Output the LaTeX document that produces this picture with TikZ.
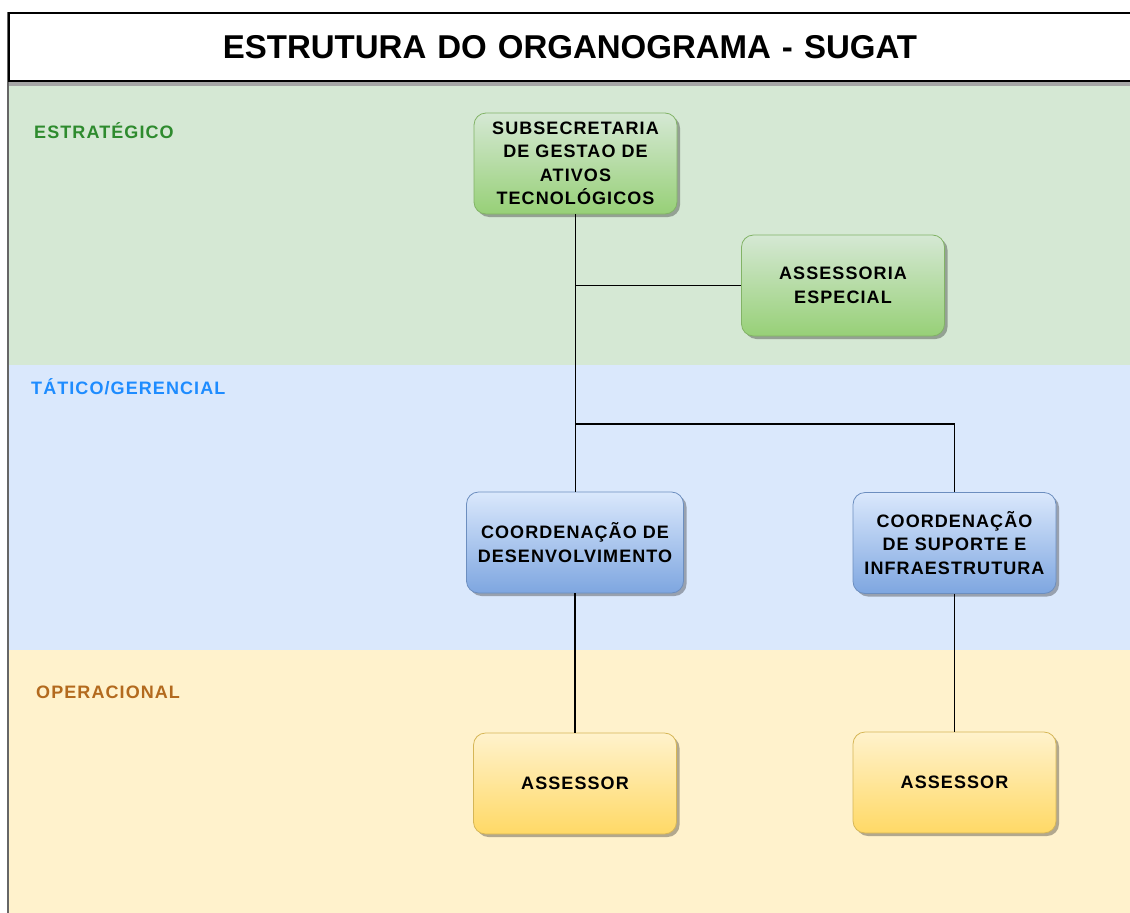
\documentclass[tikz,border=0pt]{standalone}
\usepackage{fontspec}
\setmainfont{Liberation Sans}
\newfontfamily\spaced[LetterSpace=6]{Liberation Sans}
\usetikzlibrary{shadows}
\definecolor{bandgreen}{HTML}{D5E8D4}
\definecolor{bandblue}{HTML}{DAE8FC}
\definecolor{bandyellow}{HTML}{FFF2CC}
\definecolor{gtop}{HTML}{D5E8D4}
\definecolor{gbot}{HTML}{97D077}
\definecolor{gline}{HTML}{82B366}
\definecolor{btop}{HTML}{DAE8FC}
\definecolor{bbot}{HTML}{7EA6E0}
\definecolor{bline}{HTML}{6C8EBF}
\definecolor{ytop}{HTML}{FFF2CC}
\definecolor{ybot}{HTML}{FFD966}
\definecolor{yline}{HTML}{D6B656}
\definecolor{lblgreen}{HTML}{2E8B2E}
\definecolor{lblblue}{HTML}{1E8CFF}
\definecolor{lblbrown}{HTML}{B36A1E}
\tikzset{
  box/.style={rounded corners=12pt, minimum width=203pt, minimum height=101pt,
    inner sep=0pt, align=center, line width=0.8pt,
    font=\spaced\bfseries\fontsize{18}{23.5}\selectfont,
    drop shadow={shadow xshift=3pt, shadow yshift=-3pt, fill=black, opacity=0.3}},
  greenbox/.style={box, draw=gline, top color=gtop, bottom color=gbot},
  bluebox/.style={box, draw=bline, top color=btop, bottom color=bbot},
  yellowbox/.style={box, draw=yline, top color=ytop, bottom color=ybot},
  lbl/.style={anchor=west, inner sep=0pt, font=\spaced\bfseries\fontsize{18}{22}\selectfont},
  conn/.style={draw=black, line width=1.4pt}
}
\begin{document}
\begin{tikzpicture}[x=1pt,y=-1pt]
\useasboundingbox (0,0) rectangle (1130,913);
\fill[white] (0,0) rectangle (1130,913);
% bands
\fill[bandgreen] (8,82) rectangle (1130,365);
\fill[bandblue] (8,365) rectangle (1130,650);
\fill[bandyellow] (8,650) rectangle (1130,913);
\fill[black!35] (8,80) rectangle (1130,86);
\draw[black!60, line width=1.5pt] (8,12) -- (8,913);
% title
\node[draw=black, line width=2pt, fill=white, anchor=north west, minimum width=1130pt,
  minimum height=68pt, inner sep=0pt, text width=1130pt, align=center,
  font=\bfseries\fontsize{33}{38}\selectfont] (title) at (8,12) {\hspace*{-8pt}ESTRUTURA DO ORGANOGRAMA - SUGAT\hspace*{129pt}};
% level labels
\node[lbl, text=lblgreen] (lstr) at (34,131) {ESTRATÉGICO};
\node[lbl, text=lblblue] (ltat) at (31,387) {TÁTICO/GERENCIAL};
\node[lbl, text=lblbrown] (lop) at (36,692) {OPERACIONAL};
% nodes
\node[greenbox] (sub) at (575.5,163.5) {SUBSECRETARIA\\DE GESTAO DE\\ATIVOS\\TECNOLÓGICOS};
\node[greenbox] (esp) at (843,285.5) {ASSESSORIA\\ESPECIAL};
\node[bluebox, minimum width=217pt] (dev) at (575,542.5) {COORDENAÇÃO DE\\DESENVOLVIMENTO};
\node[bluebox] (sup) at (954.5,543) {COORDENAÇÃO\\DE SUPORTE E\\INFRAESTRUTURA};
\node[yellowbox] (as1) at (575,783.5) {ASSESSOR};
\node[yellowbox] (as2) at (954.5,782.5) {ASSESSOR};
% connectors
\coordinate (j1) at (sub.south |- esp.west);
\coordinate (j2) at (sub.south |- 0,424);
\path[conn] (sub.south) -- (sub.south |- dev.north);
\path[conn] (j1) -- (esp.west);
\path[conn] (j2) -| (sup.north);
\path[conn] (dev.south) -- (as1.north);
\path[conn] (sup.south) -- (as2.north);
\end{tikzpicture}
\end{document}
